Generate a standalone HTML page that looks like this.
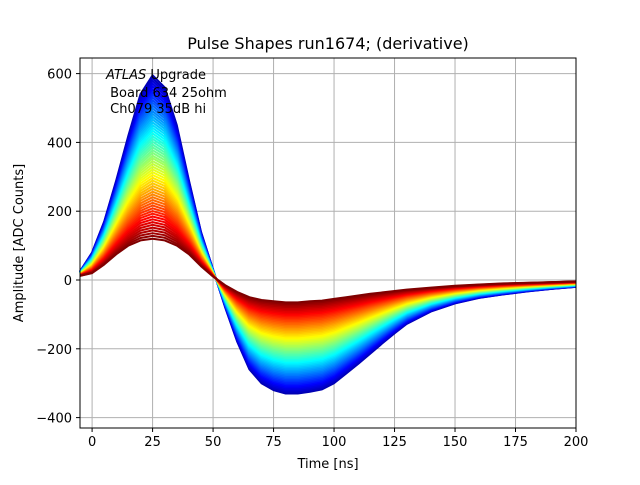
<!DOCTYPE html>
<html><head><meta charset="utf-8"><style>
body{margin:0;background:#fff}
svg{font-family:"DejaVu Sans","Liberation Sans",sans-serif}
</style></head><body>
<svg id="chart" width="640" height="480">
<rect width="640" height="480" fill="#fff"/>
<text x="328" y="49" font-size="16" text-anchor="middle">Pulse Shapes run1674; (derivative)</text>
<g id="grid"></g>
<g id="curves"></g>
<rect x="80" y="58" width="496" height="370" fill="none" stroke="#000" stroke-width="1"/>
<g id="axes"></g>
<text x="328" y="468" font-size="13" text-anchor="middle">Time [ns]</text>
<text transform="translate(23,243) rotate(-90)" font-size="13" text-anchor="middle">Amplitude [ADC Counts]</text>
<g font-size="13">
<text x="106" y="79"><tspan font-style="italic">ATLAS</tspan> Upgrade</text>
<text x="106" y="97">&#160;Board 634 25ohm</text>
<text x="106" y="113">&#160;Ch079 35dB hi</text>
</g>
</svg>
<script>
const xTicks=[0,25,50,75,100,125,150,175,200];
const yTicks=[600,400,200,0,-200,-400];
const tTemplate=[-5,0,5,10,15,20,25,30,35,40,45,50,55,60,65,70,75,80,85,90,95,100,105,110,115,120,125,130,140,150,160,170,180,190,200];
const vLarge=[25,80,170,290,420,540,595,560,450,290,140,30,-80,-180,-260,-300,-320,-330,-330,-325,-318,-300,-272,-244,-214,-184,-155,-128,-92,-68,-52,-42,-33,-26,-20];
const vSmall=[12,20,45,75,100,115,120,115,100,75,40,10,-15,-35,-50,-58,-62,-65,-65,-62,-60,-55,-50,-45,-40,-36,-32,-28,-22,-17,-13,-10,-8,-6,-4];
const amps=[];for(let i=0;i<60;i++)amps.push(+(1-i/59).toFixed(3));
const NS='http://www.w3.org/2000/svg';
const X=t=>80+(t+5)*496/205;
const Y=v=>280-v*0.344;
function jet(f){const r=Math.min(1,Math.max(0,1.5-Math.abs(4*f-3))),g=Math.min(1,Math.max(0,1.5-Math.abs(4*f-2))),b=Math.min(1,Math.max(0,1.5-Math.abs(4*f-1)));return `rgb(${r*255|0},${g*255|0},${b*255|0})`;}
const grid=document.getElementById('grid'),axes=document.getElementById('axes'),cg=document.getElementById('curves');
xTicks.forEach(t=>{
 const l=document.createElementNS(NS,'line');l.setAttribute('x1',X(t));l.setAttribute('x2',X(t));l.setAttribute('y1',58);l.setAttribute('y2',428);l.setAttribute('stroke','#b0b0b0');
 
 
 grid.appendChild(l);
 const k=document.createElementNS(NS,'line');k.setAttribute('x1',X(t));k.setAttribute('x2',X(t));k.setAttribute('y1',428);k.setAttribute('y2',432);k.setAttribute('stroke','#000');axes.appendChild(k);
 const s=document.createElementNS(NS,'text');s.setAttribute('x',X(t));s.setAttribute('y',446);s.setAttribute('font-size','13');s.setAttribute('text-anchor','middle');s.textContent=t;
 
 
 axes.appendChild(s);
});
yTicks.forEach(v=>{
 const l=document.createElementNS(NS,'line');l.setAttribute('x1',80);l.setAttribute('x2',576);l.setAttribute('y1',Y(v));l.setAttribute('y2',Y(v));l.setAttribute('stroke','#b0b0b0');
 
 
 grid.appendChild(l);
 const k=document.createElementNS(NS,'line');k.setAttribute('x1',76);k.setAttribute('x2',80);k.setAttribute('y1',Y(v));k.setAttribute('y2',Y(v));k.setAttribute('stroke','#000');axes.appendChild(k);
 const s=document.createElementNS(NS,'text');s.setAttribute('x',72);s.setAttribute('y',Y(v)+5);s.setAttribute('font-size','13');s.setAttribute('text-anchor','end');s.textContent=v<0?'\u2212'+(-v):v;
 
 
 axes.appendChild(s);
});
amps.forEach((a,i)=>{
 const p=document.createElementNS(NS,'polyline');
 p.setAttribute('points',tTemplate.map((t,j)=>X(t).toFixed(1)+','+Y(vSmall[j]+(vLarge[j]-vSmall[j])*a).toFixed(1)).join(' '));
 p.setAttribute('fill','none');p.setAttribute('stroke',jet(0.05+0.95*i/(amps.length-1)));p.setAttribute('stroke-width','2');p.setAttribute('stroke-linejoin','round');
 
 
 cg.appendChild(p);
});
</script>
</body></html>
